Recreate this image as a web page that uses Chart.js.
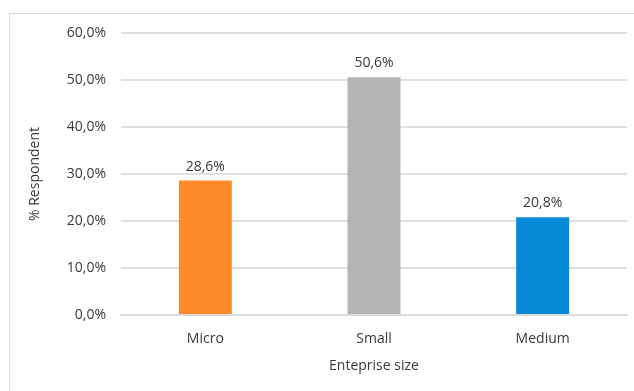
<!DOCTYPE html>
<html>
<head>
<meta charset="utf-8">
<script src="https://cdn.jsdelivr.net/npm/chart.js"></script>
<style>
  html, body { margin: 0; padding: 0; background: #fff; }
  #wrap { position: relative; width: 634px; height: 391px; overflow: hidden; }
  #frame { position: absolute; left: 9px; top: 13px; width: 700px; height: 500px;
           border-left: 1px solid #d9d9d9; border-top: 1px solid #d9d9d9; }
  #chart { position: absolute; left: 0; top: 0; }
</style>
</head>
<body>
<div id="wrap">
  <div id="frame"></div>
  <canvas id="chart" width="634" height="391"></canvas>
</div>
<script>
// enterprise size categories and share of respondents (%)
const categories = ['Micro', 'Small', 'Medium'];
const shares = [28.6, 50.6, 20.8];
const barColors = ['#FF8A2A', '#B4B4B4', '#0489D6'];
const yTicks = [0, 10, 20, 30, 40, 50, 60];

const fmt = v => v.toFixed(1).replace('.', ',') + '%';
const FONT = '"Open Sans", sans-serif';
const TXT = '#3a3a3a';

// value labels above each bar
const valueLabels = {
    id: 'valueLabels',
    afterDatasetsDraw(chart) {
        const ctx = chart.ctx;
        const meta = chart.getDatasetMeta(0);
        ctx.save();
        ctx.font = '14px ' + FONT;
        ctx.fillStyle = TXT;
        ctx.textAlign = 'center';
        ctx.textBaseline = 'bottom';
        meta.data.forEach((bar, i) => {
            ctx.fillText(fmt(shares[i]), bar.x, bar.y - 7);
        });
        ctx.restore();
    }
};

new Chart(document.getElementById('chart').getContext('2d'), {
    type: 'bar',
    data: {
        labels: categories,
        datasets: [{
            data: shares,
            backgroundColor: barColors,
            barPercentage: 0.314,
            categoryPercentage: 1
        }]
    },
    options: {
        responsive: false,
        animation: false,
        layout: { padding: { left: 0, right: 7, top: 33, bottom: 0 } },
        plugins: { legend: { display: false }, tooltip: { enabled: false } },
        scales: {
            x: {
                grid: { display: false },
                border: { display: true, color: '#dcdcdc', width: 2 },
                ticks: { color: TXT, font: { family: FONT, size: 14 }, padding: 8 },
                title: { display: true, text: 'Enteprise size', color: TXT,
                         font: { family: FONT, size: 14 }, padding: { top: 4, bottom: 17 } },
                afterFit(scale) { scale.height = 76; }
            },
            y: {
                min: 0, max: 60,
                afterBuildTicks(scale) { scale.ticks = yTicks.map(v => ({ value: v })); },
                grid: { color: '#e0e0e0', lineWidth: 2, drawTicks: false },
                border: { display: false },
                ticks: { color: TXT, font: { family: FONT, size: 14 }, padding: 15,
                         callback: v => fmt(v) },
                title: { display: true, text: '% Respondent', color: TXT,
                         font: { family: FONT, size: 14 }, padding: { top: 27 } },
                afterFit(scale) { scale.width = 121; }
            }
        }
    },
    plugins: [valueLabels]
});
</script>
</body>
</html>
